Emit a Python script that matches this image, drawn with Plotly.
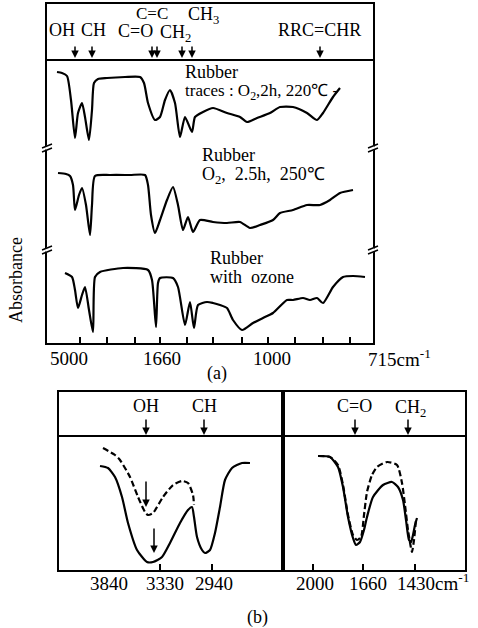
import plotly.graph_objects as go

W, H = 478, 628

# ---------------- (a) survey spectra: x = chart position, y = chart row (down = stronger absorption)
traces_x = [57, 62, 67, 71, 75, 78, 82, 85, 89, 92, 94, 98, 107, 125, 140, 144, 148, 155, 160, 165, 170,
            175, 180, 185, 192, 195, 203, 213, 227, 240, 247, 257, 270, 280, 293, 307, 317, 323, 333, 340]
traces_y = [72, 73, 76, 100, 138, 113, 103, 117, 140, 110, 83, 79, 78, 77, 77, 83, 103, 120, 117, 100, 90,
            103, 137, 117, 132, 117, 112, 108, 113, 117, 122, 118, 113, 107, 107, 113, 120, 113, 97, 88]

o2_x = [58, 66, 70, 73, 75, 79, 82, 86, 90, 92, 95, 110, 130, 145, 148, 151, 155, 160, 167, 173, 178, 183,
        188, 193, 200, 213, 227, 240, 250, 260, 273, 280, 293, 307, 320, 330, 340, 353]
o2_y = [173, 174, 176, 185, 210, 195, 188, 205, 235, 205, 176, 175, 175, 175, 185, 215, 233, 220, 200, 187,
        205, 230, 217, 232, 220, 222, 223, 222, 228, 225, 220, 213, 210, 205, 205, 200, 193, 190]

oz_x = [65, 72, 75, 78, 82, 85, 89, 93, 95, 100, 123, 148, 152, 156, 158, 160, 173, 178, 185, 190, 194, 198,
        207, 213, 220, 227, 233, 242, 253, 263, 273, 287, 293, 303, 310, 317, 323, 333, 343, 353, 365]
oz_y = [273, 277, 290, 308, 295, 287, 310, 332, 277, 272, 268, 270, 280, 327, 283, 278, 278, 287, 325, 302,
        328, 305, 302, 303, 305, 308, 320, 330, 323, 318, 313, 300, 300, 298, 300, 298, 303, 287, 277, 276, 277]

a_tick_pos = [80, 107, 135, 160, 187, 213, 242, 268, 295, 323, 350]
a_label_pos = [69, 162, 272]
a_label_txt = ["5000", "1660", "1000"]

band_arrow_x = [75, 92, 152, 157, 182, 192, 320]

# ---------------- (b) OH/CH region
ohch_solid_x = [100, 108, 115, 122, 128, 137, 147, 153, 162, 170, 180, 188, 192, 194, 197, 202, 205, 210,
                215, 220, 225, 232, 242, 250]
ohch_solid_y = [466, 468, 477, 497, 523, 550, 562, 562, 557, 543, 523, 510, 507, 517, 537, 550, 553, 550,
                533, 507, 480, 468, 463, 463]
ohch_dash_x = [103, 115, 120, 130, 138, 145, 148, 153, 163, 173, 182, 188, 193, 194]
ohch_dash_y = [448, 455, 460, 477, 497, 512, 515, 513, 497, 485, 481, 483, 495, 505]
b1_tick_pos = [160, 212]
b1_label_pos = [109, 165, 214]
b1_label_txt = ["3840", "3330", "2940"]

# ---------------- (b) C=O / CH2 region
co_solid_x = [318, 330, 338, 343, 348, 353, 356, 360, 364, 367, 373, 383, 392, 398, 403, 406, 409, 411,
              413, 415, 417]
co_solid_y = [456, 457, 467, 487, 517, 538, 545, 542, 530, 517, 497, 485, 482, 487, 500, 520, 540, 542,
              535, 525, 518]
co_dash_x = [318, 330, 338, 343, 348, 353, 357, 361, 364, 367, 372, 377, 387, 397, 402, 405, 408, 411,
             412, 414, 416]
co_dash_y = [456, 457, 465, 485, 515, 535, 540, 537, 515, 492, 475, 467, 462, 465, 483, 505, 530, 548,
             552, 540, 520]
b2_tick_pos = [313, 363, 415]
b2_label_pos = [315, 368, 416]
b2_label_txt = ["2000", "1660", "1430"]

FONT = "Liberation Serif"


def px(x):
    return x / W


def py(y):
    return 1 - y / H


fig = go.Figure()


def add_line(x, y, xa, ya, dash="solid"):
    fig.add_trace(go.Scatter(
        x=x, y=y, mode="lines", xaxis=xa, yaxis=ya, showlegend=False, hoverinfo="skip",
        line=dict(color="black", width=2.2, dash=dash, shape="spline", smoothing=0.6)))


add_line(traces_x, traces_y, "x", "y")
add_line(o2_x, o2_y, "x", "y")
add_line(oz_x, oz_y, "x", "y")
add_line(ohch_solid_x, ohch_solid_y, "x2", "y2")
add_line(ohch_dash_x, ohch_dash_y, "x2", "y2", dash="6px,3px")
add_line(co_solid_x, co_solid_y, "x3", "y3")
add_line(co_dash_x, co_dash_y, "x3", "y3", dash="6px,3px")

box = dict(showline=True, mirror=True, linecolor="black", linewidth=2, showgrid=False, zeroline=False)
xt = dict(tickmode="array", ticks="inside", ticklen=6, tickwidth=1.5, tickcolor="black",
          showticklabels=False)

fig.update_layout(
    width=W, height=H, margin=dict(l=0, r=0, t=0, b=0),
    paper_bgcolor="white", plot_bgcolor="white",
    font=dict(family=FONT, size=18, color="black"),
    xaxis=dict(domain=[px(47), px(373)], range=[47, 373], anchor="y", tickvals=a_tick_pos, **xt, **box),
    yaxis=dict(domain=[py(343), py(4)], range=[343, 4], anchor="x", showticklabels=False, ticks="", **box),
    xaxis2=dict(domain=[px(59), px(283)], range=[59, 283], anchor="y2", tickvals=b1_tick_pos, **xt, **box),
    yaxis2=dict(domain=[py(570), py(392)], range=[570, 392], anchor="x2", showticklabels=False, ticks="", **box),
    xaxis3=dict(domain=[px(283), px(465)], range=[283, 465], anchor="y3", tickvals=b2_tick_pos, **xt, **box),
    yaxis3=dict(domain=[py(570), py(392)], range=[570, 392], anchor="x3", showticklabels=False, ticks="", **box),
)

shapes = []
# header separators
shapes.append(dict(type="line", xref="paper", yref="paper", x0=px(47), x1=px(373), y0=py(60), y1=py(60),
                   line=dict(color="black", width=2)))
shapes.append(dict(type="line", xref="paper", yref="paper", x0=px(59), x1=px(465), y0=py(436), y1=py(436),
                   line=dict(color="black", width=2)))
# axis break marks
for bx in (47, 373):
    for by in (148, 250):
        shapes.append(dict(type="line", xref="paper", yref="paper", x0=px(bx - 1), x1=px(bx + 1),
                           y0=py(by - 2), y1=py(by + 2), line=dict(color="white", width=4)))
        for off in (-2, 2):
            shapes.append(dict(type="line", xref="paper", yref="paper", x0=px(bx - 5), x1=px(bx + 5),
                               y0=py(by + 2 + off), y1=py(by - 2 + off), line=dict(color="black", width=1.5)))
fig.update_layout(shapes=shapes)

ann = []


def text(t, x, y, size=18, xref="paper", xanchor="center", **kw):
    ann.append(dict(text=t, x=(px(x) if xref == "paper" else x), y=py(y), xref=xref, yref="paper",
                    xanchor=xanchor, yanchor="middle",
                    showarrow=False, font=dict(family=FONT, size=size, color="black"), **kw))


def arrow(x, y_tail, y_head, xa, ya):
    ann.append(dict(text="", x=x, y=y_head, ax=x, ay=y_tail, xref=xa, yref=ya, axref=xa, ayref=ya,
                    showarrow=True, arrowhead=2, arrowsize=1, arrowwidth=1.5, arrowcolor="black"))


# axis labels (tick texts)
for v, t in zip(a_label_pos, a_label_txt):
    text(t, v, 358, 19, xref="x")
text("715cm<sup>-1</sup>", 366, 358, 19, xanchor="left")
for v, t in zip(b1_label_pos, b1_label_txt):
    text(t, v, 583, 19, xref="x2")
for v, t in zip(b2_label_pos, b2_label_txt):
    text(t, v, 583, 19, xref="x3")
text("cm<sup>-1</sup>", 433, 582, 19, xanchor="left")

# (a) header labels
text("OH", 62, 30)
text("CH", 93, 30)
text("C=O", 135, 31)
text("C=C", 152, 13, 17)
text("CH<sub>2</sub>", 175, 33)
text("CH<sub>3</sub>", 203, 16)
text("RRC=CHR", 319, 30)
for bx in band_arrow_x:
    arrow(bx, 45, 58, "x", "y")

# spectrum labels
text("Rubber", 183, 72, xanchor="left")
text("traces : O<sub>2</sub>,2h, 220℃ -", 183, 92, 17, xanchor="left")
text("Rubber", 200, 155, xanchor="left")
text("O<sub>2</sub>,  2.5h,  250℃", 200, 175, xanchor="left")
text("Rubber", 208, 258, xanchor="left")
text("with  ozone", 208, 277, xanchor="left")

text("(a)", 217, 373)
text("Absorbance", 16, 280, 18, textangle=-90)

# (b) header
text("OH", 146, 406)
text("CH", 204, 406)
text("C=O", 354, 406)
text("CH<sub>2</sub>", 410, 408)
arrow(146, 418, 435, "x2", "y2")
arrow(204, 418, 435, "x2", "y2")
arrow(355, 418, 435, "x3", "y3")
arrow(408, 418, 435, "x3", "y3")
arrow(146, 480, 507, "x2", "y2")
arrow(154, 527, 553, "x2", "y2")
text("(b)", 257, 617)

fig.update_layout(annotations=ann)
fig.write_html("out.html")
